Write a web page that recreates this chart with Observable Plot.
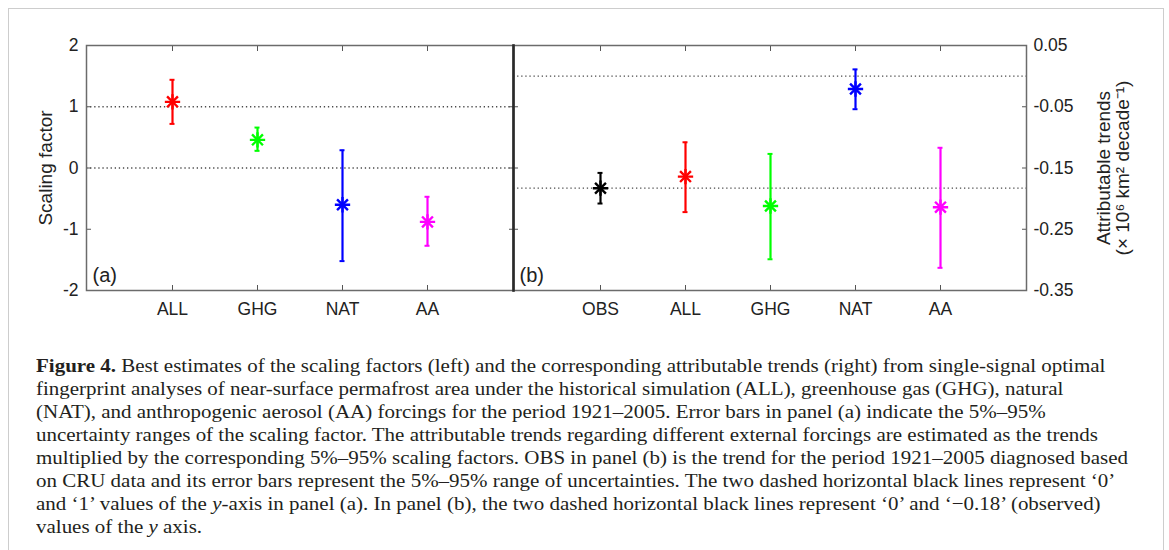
<!DOCTYPE html>
<html>
<head>
<meta charset="utf-8">
<script src="https://cdn.jsdelivr.net/npm/d3@7"></script>
<script src="https://cdn.jsdelivr.net/npm/@observablehq/plot@0.6"></script>
<style>
html, body { margin: 0; padding: 0; background: #fff; width: 1169px; height: 550px; overflow: hidden; }
#border { position: absolute; left: 8px; top: 8px; width: 1154px; height: 560px; border: 1.5px solid #cdcdcd; }
#left { position: absolute; left: 0; top: 0; }
#right { position: absolute; left: 511px; top: 0; }
#caption { position: absolute; left: 36px; top: 354px; font-family: "Liberation Serif", "Times New Roman", serif;
  font-size: 19.5px; line-height: 23px; color: #231f20; transform-origin: 0 0; white-space: nowrap; }
#caption div { white-space: nowrap; }
</style>
</head>
<body>
<div id="border"></div>
<div id="left"></div>
<div id="right"></div>
<div id="caption"></div>
<script>
// ---------- data ----------
const allCategories = ["OBS", "ALL", "GHG", "NAT", "AA"];

// panel (a): scaling factors (best estimate and 5%-95% range)
const scalingCategories = ["ALL", "GHG", "NAT", "AA"];
const scalingBest = [1.08, 0.46, -0.60, -0.88];
const scalingLow  = [0.72, 0.28, -1.52, -1.27];
const scalingHigh = [1.44, 0.66, 0.29, -0.47];
const scalingTicks = [2, 1, 0, -1, -2];
const scalingTickLabels = ["2", "1", "0", "-1", "-2"];
const scalingRefLines = [0, 1];

// panel (b): attributable trends (10^6 km2 per decade)
const trendCategories = ["OBS", "ALL", "GHG", "NAT", "AA"];
const trendBest = [-0.183, -0.164, -0.212, -0.021, -0.214];
const trendLow  = [-0.208, -0.222, -0.299, -0.054, -0.313];
const trendHigh = [-0.158, -0.108, -0.127, 0.011, -0.117];
const trendTicks = [0.05, -0.05, -0.15, -0.25, -0.35];
const trendTickLabels = ["0.05", "-0.05", "-0.15", "-0.25", "-0.35"];
const trendRefLines = [0, trendBest[0]];

const captionLines = [
  "<b>Figure 4.</b> Best estimates of the scaling factors (left) and the corresponding attributable trends (right) from single-signal optimal",
  "fingerprint analyses of near-surface permafrost area under the historical simulation (ALL), greenhouse gas (GHG), natural",
  "(NAT), and anthropogenic aerosol (AA) forcings for the period 1921–2005. Error bars in panel (a) indicate the 5%–95%",
  "uncertainty ranges of the scaling factor. The attributable trends regarding different external forcings are estimated as the trends",
  "multiplied by the corresponding 5%–95% scaling factors. OBS in panel (b) is the trend for the period 1921–2005 diagnosed based",
  "on CRU data and its error bars represent the 5%–95% range of uncertainties. The two dashed horizontal black lines represent ‘0’",
  "and ‘1’ values of the <i>y</i>-axis in panel (a). In panel (b), the two dashed horizontal black lines represent ‘0’ and ‘−0.18’ (observed)",
  "values of the <i>y</i> axis."
];

// ---------- styles ----------
const palette = ["#000000", "#ff0000", "#00ff00", "#0000ff", "#ff00ff"];
const frameColor = "#6b6b6b";
const tickColor = "#555";

function rows(cats, best, low, high) {
  return cats.map((c, i) => ({cat: c, best: best[i], low: low[i], high: high[i]}));
}

function panel(o) {
  const data = rows(o.cats, o.best, o.low, o.high);
  const fmt = d => o.tickLabels[o.ticks.indexOf(d)];
  const side = o.side;
  const cap = {x1: "cat", x2: "cat", stroke: "cat", strokeWidth: 2, insetLeft: -2.5, insetRight: -2.5};
  return Plot.plot({
    width: o.width, height: 330,
    marginTop: 45, marginBottom: 40, marginLeft: o.marginLeft, marginRight: o.marginRight,
    style: {fontFamily: "'Liberation Sans', Arial, sans-serif", fontSize: "17.5px", color: "#222", background: "transparent", overflow: "visible"},
    x: {type: "point", domain: o.cats, padding: 1},
    y: {domain: o.domain},
    color: {domain: allCategories, range: palette},
    marks: [
      Plot.ruleY(o.refLines, {stroke: "#4a4a4a", strokeWidth: 1.3, strokeDasharray: "1.3 2.8"}),
      Plot.axisY(o.ticks, {anchor: side, tickSize: 0, tickPadding: side === "left" ? 8 : 7, tickFormat: fmt, label: null}),
      Plot.axisY(o.ticks, {anchor: "left", tickSize: -5, tickFormat: () => "", label: null, stroke: tickColor}),
      Plot.axisY(o.ticks, {anchor: "right", tickSize: -5, tickFormat: () => "", label: null, stroke: tickColor}),
      Plot.axisX({anchor: "bottom", tickSize: 0, tickPadding: 12, label: null}),
      Plot.axisX({anchor: "bottom", tickSize: -5, tickFormat: () => "", label: null, stroke: tickColor}),
      Plot.axisX({anchor: "top", tickSize: -5, tickFormat: () => "", label: null, stroke: tickColor}),
      Plot.frame({stroke: frameColor, strokeWidth: 1.5}),
      Plot.ruleX(data, {x: "cat", y1: "low", y2: "high", stroke: "cat", strokeWidth: 2.2}),
      Plot.ruleY(data, {y: "low", ...cap}),
      Plot.ruleY(data, {y: "high", ...cap}),
      Plot.dot(data, {x: "cat", y: "best", stroke: "cat", symbol: "plus", r: 5, strokeWidth: 2.4}),
      Plot.dot(data, {x: "cat", y: "best", stroke: "cat", symbol: "times", r: 5, strokeWidth: 2.4}),
      Plot.text([o.tag], {frameAnchor: "bottom-left", dx: 6, dy: -9, textAnchor: "start", lineAnchor: "bottom", fontSize: 20, fill: "#222"}),
      Plot.text([o.label], {frameAnchor: side, dx: o.labelDx, rotate: -90, textAnchor: "middle", lineAnchor: "middle", lineHeight: 1.0, fontSize: 19, fill: "#222"}),
      ...(o.divider ? [Plot.frame({anchor: "left", stroke: "#2a2a2a", strokeWidth: 2.6})] : [])
    ]
  });
}

document.getElementById("left").append(panel({
  cats: scalingCategories, best: scalingBest, low: scalingLow, high: scalingHigh,
  ticks: scalingTicks, tickLabels: scalingTickLabels, refLines: scalingRefLines,
  domain: [-2, 2], width: 515, marginLeft: 86, marginRight: 2, side: "left",
  tag: "(a)", label: "Scaling factor", labelDx: -41, divider: false
}));

document.getElementById("right").append(panel({
  cats: trendCategories, best: trendBest, low: trendLow, high: trendHigh,
  ticks: trendTicks, tickLabels: trendTickLabels, refLines: trendRefLines,
  domain: [-0.35, 0.05], width: 658, marginLeft: 2, marginRight: 143, side: "right",
  tag: "(b)", label: "Attributable trends\n(× 10⁶ km² decade⁻¹)", labelDx: 86.5, divider: true
}));

// caption
const cap = document.getElementById("caption");
cap.innerHTML = captionLines.map(l => `<div>${l}</div>`).join("");
const widest = Math.max(...Array.from(cap.children).map(d => {
  const r = document.createRange(); r.selectNodeContents(d); return r.getBoundingClientRect().width;
}));
const targetWidth = 1092;
cap.style.transform = `scaleX(${targetWidth / widest})`;
</script>
</body>
</html>
